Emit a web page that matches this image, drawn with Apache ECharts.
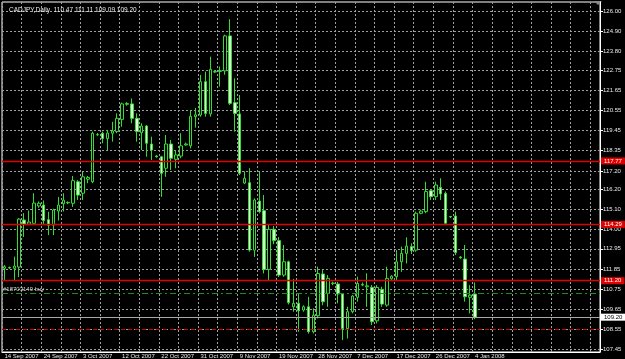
<!DOCTYPE html>
<html>
<head>
<meta charset="utf-8">
<script src="https://cdn.jsdelivr.net/npm/echarts@6/dist/echarts.min.js"></script>
<style>
html, body { margin: 0; padding: 0; background: #000; }
#chart { width: 625px; height: 359px; }
</style>
</head>
<body>
<div id="chart"></div>
<script>
// CADJPY daily bars (14 Sep 2007 .. 4 Jan 2008)
var opens = [111.88,111.92,111.88,111.95,114.53,114.30,114.35,115.30,115.35,114.55,
	114.25,115.02,115.42,115.47,115.45,116.63,116.00,116.77,116.63,119.20,
	119.29,119.00,119.29,119.38,120.05,120.88,120.90,120.11,119.32,119.69,
	118.70,118.04,118.00,117.37,118.70,117.86,118.04,118.65,118.60,120.20,
	120.29,122.12,120.35,122.65,122.68,122.71,124.63,120.97,120.35,116.56,
	116.58,112.88,115.57,115.04,111.82,114.02,113.40,111.51,112.24,109.77,
	109.96,109.59,109.77,108.40,109.28,111.57,110.51,111.05,111.02,110.47,
	108.58,109.50,110.29,110.96,110.87,110.83,109.00,110.72,109.86,111.31,
	111.42,112.24,112.70,113.07,112.88,114.90,114.99,116.14,115.81,116.32,
	115.99,114.72,114.75,112.50,112.39,110.29,110.47];
var closes = [111.97,111.90,112.00,114.58,114.30,114.42,115.46,115.45,114.50,114.25,
	115.08,115.35,115.62,115.50,116.69,115.90,116.90,116.86,119.29,119.22,
	119.00,119.30,119.41,120.11,120.90,120.92,120.11,119.38,119.69,118.74,
	118.37,118.00,117.09,118.70,117.92,118.10,118.60,118.70,120.22,120.30,
	122.12,120.38,122.80,122.67,122.72,124.63,120.93,120.38,117.09,116.82,
	112.88,115.63,114.99,111.82,114.02,113.40,111.51,112.24,110.00,109.96,
	109.55,109.77,108.40,109.31,111.60,110.05,111.33,111.07,110.47,108.58,
	109.50,110.36,111.05,111.00,110.92,108.95,110.83,109.92,111.33,111.45,
	112.24,112.70,113.10,112.85,114.90,115.02,116.09,115.81,116.45,115.96,
	114.35,114.70,112.74,112.46,110.32,110.41,109.20];
var lows = [111.24,111.85,111.24,111.40,113.60,114.25,114.30,115.20,114.30,113.70,
	113.70,114.50,115.00,115.40,115.25,115.63,115.63,116.55,116.55,119.15,
	118.74,118.37,118.83,119.29,119.65,120.80,119.84,118.83,118.37,118.00,
	117.82,117.95,115.80,116.90,117.27,117.37,117.92,118.60,118.46,119.60,
	120.20,120.20,120.20,122.60,121.85,122.50,120.84,119.38,117.00,116.50,
	112.79,112.51,114.90,111.60,111.24,113.20,111.40,111.42,109.90,109.50,
	108.40,109.50,108.30,108.31,109.13,109.86,109.77,110.95,109.96,107.94,
	108.03,109.41,110.05,110.90,109.77,108.77,108.86,109.77,109.77,111.25,
	111.24,111.69,112.15,112.66,112.79,114.85,114.90,115.63,115.63,115.63,
	114.25,114.65,112.61,112.40,110.05,109.41,109.09];
var highs = [112.06,111.98,112.52,114.64,114.91,115.05,116.00,115.55,115.60,114.98,
	115.15,115.80,116.00,115.55,116.95,116.72,117.18,116.95,119.38,119.30,
	119.38,119.47,119.92,120.38,120.97,121.00,121.20,120.38,119.84,119.74,
	119.10,118.10,118.05,119.19,118.92,118.37,119.29,118.78,120.55,120.68,
	122.49,122.67,123.49,122.75,122.95,124.70,125.55,122.30,121.39,117.20,
	117.37,115.72,117.18,115.90,114.25,114.20,113.60,113.16,112.30,111.30,
	110.50,109.85,110.32,109.68,111.97,111.79,111.51,111.15,111.14,110.51,
	109.77,110.41,111.42,111.10,111.60,110.96,110.96,110.87,111.97,111.50,
	112.88,113.07,113.58,113.25,114.99,115.10,116.63,116.18,116.63,116.82,
	116.09,114.75,114.99,112.55,113.16,110.96,111.11];

// price axis labels as printed by the terminal
var yTicks = [126.00,124.90,123.80,122.75,121.65,120.55,119.45,118.35,117.20,
	116.20,115.10,114.00,112.95,111.85,110.75,109.65,108.55,107.45];

// horizontal levels drawn on the chart
var redLevels = [117.77, 114.29, 111.20];
var orderPrice = 110.53;
var stopPrice = 108.53;
var bidPrice = 109.20;

var symbolName = 'CADJPY,Daily';
var slotCount = 122;

var months = ['Jan','Feb','Mar','Apr','May','Jun','Jul','Aug','Sep','Oct','Nov','Dec'];
var dates = [];
(function () {
	var d = new Date(2007, 8, 14);
	while (dates.length < slotCount) {
		if (d.getDay() !== 6) {
			dates.push(d.getDate() + ' ' + months[d.getMonth()] + ' ' + d.getFullYear());
		}
		d.setDate(d.getDate() + 1);
	}
})();

var candles = [];
for (var i = 0; i < opens.length; i++) {
	candles.push([opens[i], closes[i], lows[i], highs[i]]);
}
var last = opens.length - 1;

var txt = '#e8e8e8';
var font = 'Liberation Sans, Arial, sans-serif';

var levelLines = redLevels.map(function (p) {
	return {
		yAxis: p,
		lineStyle: { color: '#e00000', type: 'solid', width: 1.3 },
		label: {
			show: true, position: 'end', distance: 1,
			formatter: p.toFixed(2),
			color: '#fff', backgroundColor: '#e00000',
			fontSize: 6, fontFamily: font, padding: [1, 3, 0, 3]
		}
	};
});
levelLines.push({
	yAxis: orderPrice,
	lineStyle: { color: '#1f8f1f', type: [6, 3, 2, 3], width: 1 },
	label: {
		show: true, position: 'insideStartTop', distance: 1,
		formatter: '#18703149 buy', color: '#d0d0d0', fontSize: 6, fontFamily: font
	}
});
levelLines.push({
	yAxis: stopPrice,
	lineStyle: { color: '#d00000', type: [4, 3], width: 1 },
	label: { show: false }
});
levelLines.push({
	yAxis: bidPrice,
	lineStyle: { color: '#a8a8a8', type: 'solid', width: 1 },
	label: {
		show: true, position: 'end', distance: 1,
		formatter: bidPrice.toFixed(2),
		color: '#000', backgroundColor: '#fff',
		fontSize: 6, fontFamily: font, padding: [1, 3, 0, 3]
	}
});

var chart = echarts.init(document.getElementById('chart'));
chart.setOption({
	backgroundColor: '#000',
	animation: false,
	title: {
		text: symbolName + '  ' + opens[last].toFixed(2) + ' ' + highs[last].toFixed(2) + ' ' +
			lows[last].toFixed(2) + ' ' + closes[last].toFixed(2),
		left: 4, top: 2,
		textStyle: { color: txt, fontSize: 6.5, fontWeight: 'normal', fontFamily: font }
	},
	grid: {
		left: 2, right: 25, top: 2, bottom: 7,
		show: true, borderColor: '#fff', borderWidth: 1, backgroundColor: '#000'
	},
	xAxis: {
		type: 'category',
		data: dates,
		boundaryGap: true,
		axisLine: { lineStyle: { color: '#fff' } },
		axisTick: { show: false },
		axisLabel: {
			color: txt, fontSize: 6, fontFamily: font, align: 'left', margin: 1,
			interval: function (idx) { return idx % 8 === 0 && idx <= last; }
		},
		splitLine: {
			show: true,
			interval: function (idx) { return idx % 4 === 0; },
			lineStyle: { color: '#a0a0a0', type: [2, 2], width: 1 }
		}
	},
	yAxis: {
		type: 'value',
		position: 'right',
		min: 107.29,
		max: 126.49,
		scale: true,
		axisLine: { show: true, lineStyle: { color: '#fff' } },
		axisTick: { show: true, length: 3, customValues: yTicks, lineStyle: { color: '#fff' } },
		axisLabel: {
			color: txt, fontSize: 6, fontFamily: font, margin: 3,
			customValues: yTicks,
			formatter: function (v) { return v.toFixed(2); }
		},
		splitLine: {
			show: true,
			lineStyle: { color: '#a0a0a0', type: [2, 2], width: 1 }
		}
	},
	series: [{
		type: 'candlestick',
		data: candles,
		barWidth: 3,
		itemStyle: {
			color: '#000',
			color0: '#e4ffdc',
			borderColor: '#33dd33',
			borderColor0: '#33dd33',
			borderWidth: 1
		},
		markLine: {
			silent: true,
			symbol: 'none',
			animation: false,
			data: levelLines
		}
	}],
	graphic: [{
		type: 'polygon',
		shape: { points: [[594, 1], [602, 1], [598, 5]] },
		style: { fill: '#8a8a8a' }
	}]
});
</script>
</body>
</html>
